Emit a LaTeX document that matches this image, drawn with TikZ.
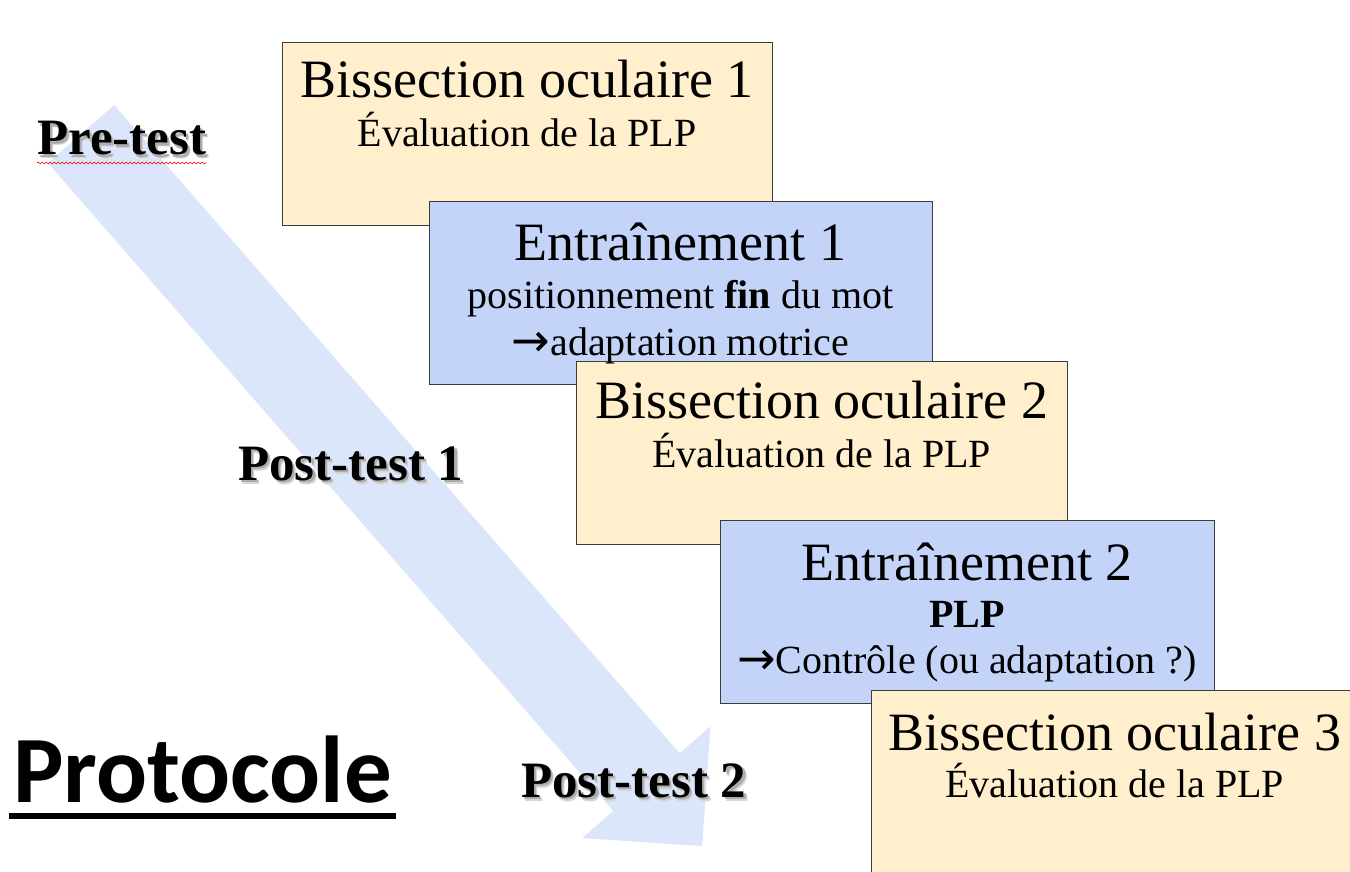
\documentclass[tikz,border=0pt]{standalone}
\usepackage{fontspec}
\setmainfont{Liberation Serif}
\newfontfamily\calib{Carlito}
\newfontfamily\arrowfont{DejaVu Sans}
\usetikzlibrary{decorations.pathmorphing}
\definecolor{tanfill}{RGB}{255,239,204}
\definecolor{bluefill}{RGB}{196,212,248}
\definecolor{arrowfill}{RGB}{220,230,250}
\definecolor{boxline}{RGB}{60,60,60}
\newcommand{\shadowed}[1]{\rlap{\kern3.2pt\raisebox{-4pt}{\textcolor{black!16}{#1}}}\rlap{\kern2.2pt\raisebox{-2.8pt}{\textcolor{black!32}{#1}}}#1}
\newcommand{\myarrow}{{\arrowfont\fontsize{46}{46}\selectfont\raisebox{-1pt}{→}}}
\begin{document}
\begin{tikzpicture}[x=1pt,y=-1pt,
  boxbase/.style={draw=boxline,line width=1.2pt,rectangle,inner sep=0pt,anchor=north west,minimum height=183pt},
  tanbox/.style={boxbase,fill=tanfill},
  bluebox/.style={boxbase,fill=bluefill},
  ttl/.style={anchor=base,inner sep=0pt,font=\fontsize{54}{60}\selectfont},
  sub/.style={anchor=base,inner sep=0pt,font=\fontsize{40}{46}\selectfont},
  lbl/.style={anchor=base west,inner sep=0pt,font=\bfseries\fontsize{51}{56}\selectfont}
]
\useasboundingbox (0,0) rectangle (1350,872);
\clip (0,0) rectangle (1350,872);

% big diagonal arrow
\coordinate (a1) at (114.2,105.1);
\coordinate (a2) at (679.6,753.2);
\coordinate (a3) at (710.5,726.2);
\coordinate (a4) at (702.2,846.2);
\coordinate (a5) at (582.3,838.0);
\coordinate (a6) at (613.2,811.0);
\coordinate (a7) at (47.8,162.9);
\fill[arrowfill] (a1) -- (a2) -- (a3) -- (a4) -- (a5) -- (a6) -- (a7) -- cycle;

% boxes
\node[tanbox,minimum width=490pt] (b1) at (282,42) {};
\node[bluebox,minimum width=503pt] (b2) at (429,201) {};
\node[tanbox,minimum width=491pt] (b3) at (576,361) {};
\node[bluebox,minimum width=494pt] (b4) at (720,520) {};
\node[tanbox,minimum width=487pt,minimum height=200pt] (b5) at (871,690) {};

% box texts
\node[ttl] (t1) at (527,98) {Bissection oculaire 1};
\node[sub] (s1) at (527,147) {Évaluation de la PLP};

\node[ttl] (t2) at (680.5,260) {Entraînement 1};
\node[sub] (s2a) at (680.5,308) {positionnement \textbf{fin} du mot};
\node[sub] (s2b) at (680.5,355) {\myarrow adaptation motrice};

\node[ttl] (t3) at (821.5,418) {Bissection oculaire 2};
\node[sub] (s3) at (821.5,467) {Évaluation de la PLP};

\node[ttl] (t4) at (967,580) {Entraînement 2};
\node[sub] (s4a) at (967,627) {\textbf{PLP}};
\node[sub] (s4b) at (967,673) {\myarrow Contrôle (ou adaptation ?)};

\node[ttl] (t5) at (1114.5,750) {Bissection oculaire 3};
\node[sub] (s5) at (1114.5,797) {Évaluation de la PLP};

% shadowed labels
\node[lbl] (pre) at (37,155) {\shadowed{Pre-test}};
\node[lbl] (post1) at (238,480) {\shadowed{Post-test 1}};
\node[lbl] (post2) at (521,797) {\shadowed{Post-test 2}};
\draw[red,line width=0.6pt,decorate,decoration={snake,amplitude=1pt,segment length=4pt}]
  ([yshift=-8pt]pre.base west) -- ([yshift=-8pt]pre.base east);

% title
\node[anchor=base west,inner sep=0pt,font=\calib\bfseries\fontsize{95}{100}\selectfont] (proto) at (13,802) {Protocole};
\draw[line width=6pt] ([xshift=-4pt,yshift=-14pt]proto.base west) -- ([xshift=4pt,yshift=-14pt]proto.base east);
\end{tikzpicture}
\end{document}
